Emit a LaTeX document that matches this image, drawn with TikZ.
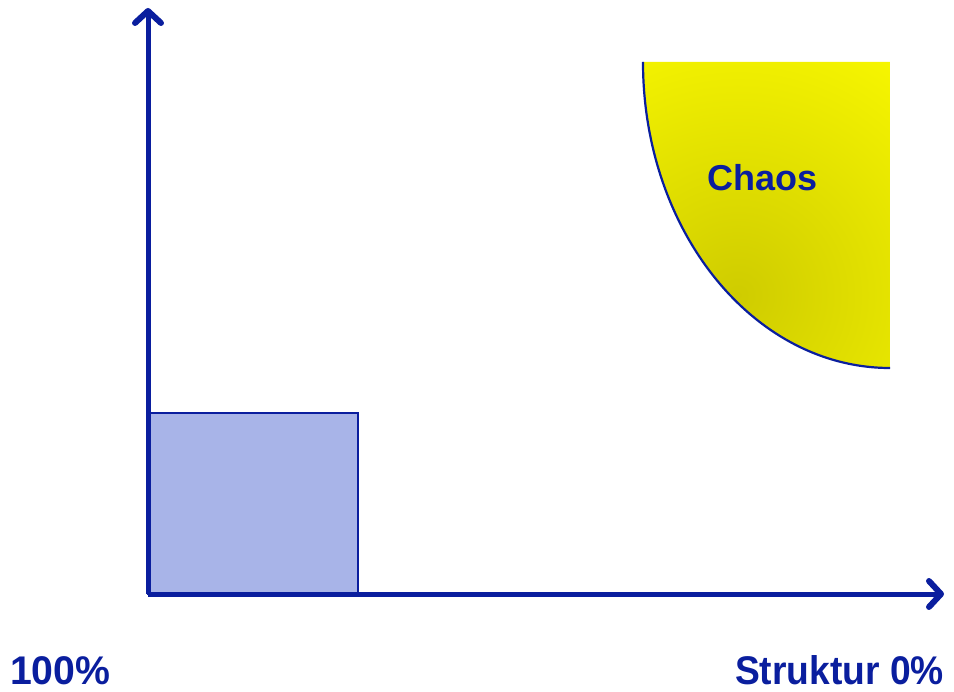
\documentclass[tikz,border=0pt]{standalone}
\usepackage{fontspec}
\setmainfont{Liberation Sans}
\usetikzlibrary{arrows.meta}
\definecolor{axisblue}{HTML}{0A1E9E}
\definecolor{boxfill}{HTML}{A8B4E8}
\definecolor{darkyel}{HTML}{CFCC00}
\definecolor{brightyel}{HTML}{FFFF00}
\begin{document}
\begin{tikzpicture}[x=1pt,y=-1pt,
  axisline/.style={line width=5pt, draw=axisblue, -{Straight Barb[length=12pt,width=26pt,line width=6pt,round]}},
  lbl/.style={text=axisblue, font=\bfseries\fontsize{40}{40}\selectfont, inner sep=0pt},
  chaoslbl/.style={text=axisblue, font=\bfseries\fontsize{36}{36}\selectfont, inner sep=0pt}]
\useasboundingbox (0,0) rectangle (954,692);
\coordinate (O) at (148,594);
\coordinate (ytip) at (148,8);
\coordinate (xtip) at (944,594);
% chaos region
\begin{scope}
\clip (643,62) arc[start angle=180,end angle=90,x radius=247,y radius=306] -- (890,62) -- cycle;
\shade[inner color=darkyel, outer color=brightyel] (738,295) circle[radius=340];
\end{scope}
\draw[axisblue, line width=2.2pt] (643,62) arc[start angle=180,end angle=90,x radius=247,y radius=306];
\node (chaos) [chaoslbl] at (763,178) {Chaos};
% box
\node (box) [draw=axisblue, fill=boxfill, line width=2.5pt, minimum width=210pt, minimum height=181pt, inner sep=0pt, outer sep=0pt, anchor=south west] at (O) {};
% axes
\draw[axisline] (O) -- (ytip);
\draw[axisline] (O) -- (xtip);
% labels
\node (left) [lbl, anchor=base west] at (10,684) {\scalebox{0.98}[1]{100\%}};
\node (right) [lbl, anchor=base east] at (944,684) {\scalebox{0.93}[1]{Struktur 0\%}};
\end{tikzpicture}
\end{document}
